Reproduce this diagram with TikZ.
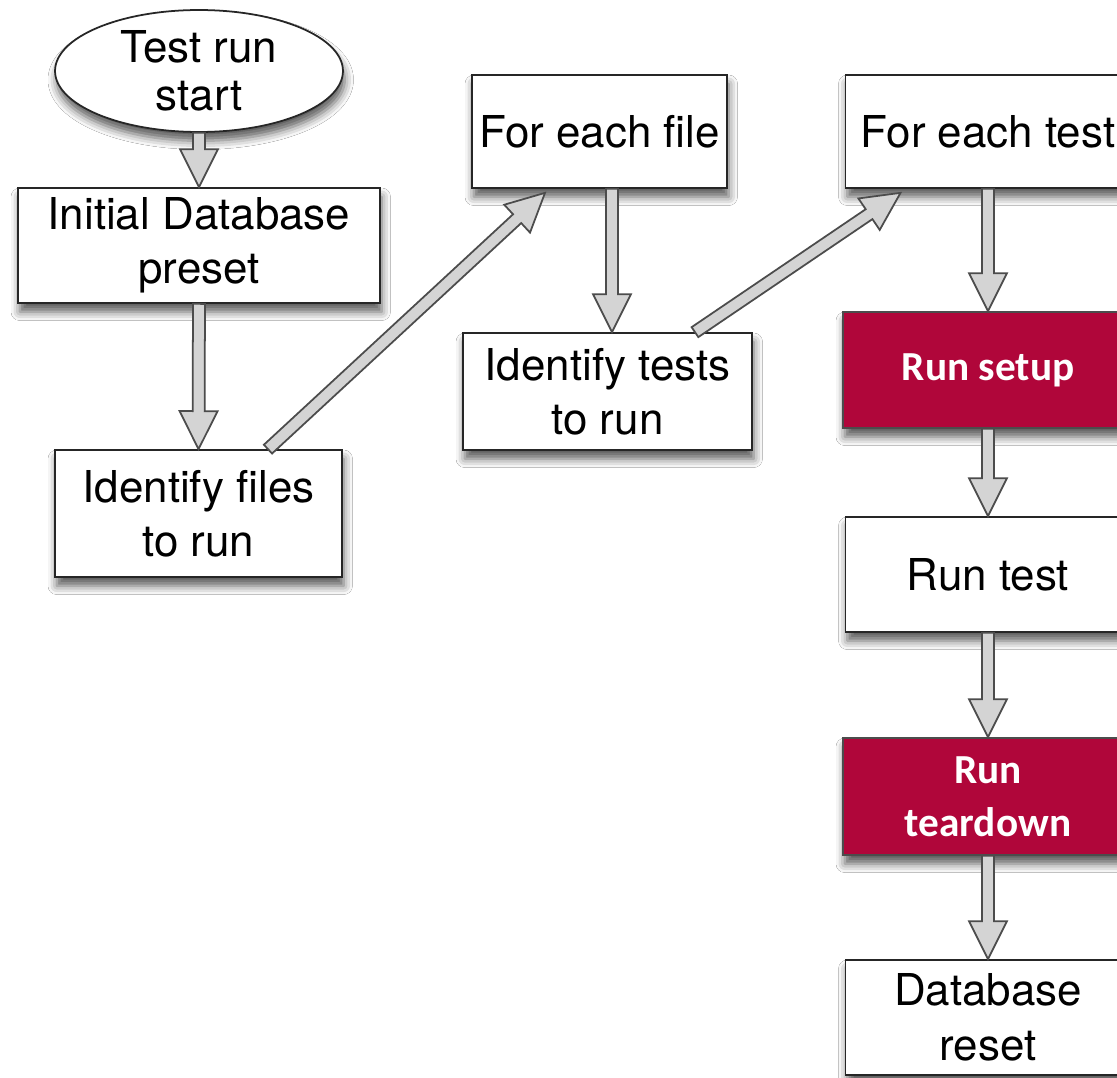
\documentclass[tikz,border=0pt]{standalone}
\usepackage{fontspec}
\setmainfont{TeX Gyre Heros}
\newfontfamily\carlito{Carlito}
\usetikzlibrary{shapes.geometric,shadows.blur,calc}
\definecolor{crimson}{RGB}{176,6,58}
\newcommand\fatarrow[2]{%
  \path (#1) coordinate (faA) (#2) coordinate (faB);
  \path ($(faB)!0.76cm!(faA)$) coordinate (faC);
  \filldraw[fatarr] ($(faA)!0.12cm!90:(faB)$) -- ($(faC)!0.12cm!90:(faB)$) -- ($(faC)!0.38cm!90:(faB)$) -- (faB) -- ($(faC)!0.38cm!-90:(faB)$) -- ($(faC)!0.12cm!-90:(faB)$) -- ($(faA)!0.12cm!-90:(faB)$) -- cycle;}
\begin{document}
\begin{tikzpicture}[x=0.02cm,y=-0.02cm,
  shad/.style={blur shadow={shadow xshift=1pt, shadow yshift=-5pt, shadow blur radius=5pt, shadow opacity=65}},
  wbox/.style={rectangle, draw=black!85, line width=1pt, fill=white, inner sep=0pt, align=center, font=\fontsize{25}{31}\selectfont, shad},
  rbox/.style={rectangle, draw=black!70, line width=1pt, fill=crimson, text=white, inner sep=0pt, align=center, font=\carlito\bfseries\fontsize{23.5}{30}\selectfont, shad},
  startell/.style={ellipse, draw=black!85, line width=1pt, fill=white, inner sep=0pt, align=center, font=\fontsize{25}{27}\selectfont, shad},
  fatarr/.style={draw=black!70, fill=black!17, line width=1pt, line join=miter}
]
\useasboundingbox[fill=white] (0,0) rectangle (1117,1078);

\node[startell, minimum width=5.76cm, minimum height=2.44cm] (start) at (199,71) {Test run\\start};
\node[wbox, minimum width=7.24cm, minimum height=2.3cm] (init) at (199,245.5) {Initial Database\\preset};
\node[wbox, minimum width=5.74cm, minimum height=2.54cm] (idf) at (198.5,513.5) {Identify files\\to run};
\node[wbox, minimum width=5.1cm, minimum height=2.26cm] (fef) at (599.5,131.5) {For each file};
\node[wbox, minimum width=5.78cm, minimum height=2.34cm] (idt) at (607.5,391.5) {Identify tests\\to run};
\node[wbox, minimum width=5.7cm, minimum height=2.26cm] (fet) at (988,131.5) {For each test};
\node[rbox, minimum width=5.8cm, minimum height=2.32cm] (rs) at (988,370) {Run setup};
\node[wbox, minimum width=5.7cm, minimum height=2.3cm] (rt) at (988,574.5) {Run test};
\node[rbox, minimum width=5.8cm, minimum height=2.34cm] (rtd) at (988,796.5) {Run\\teardown};
\node[wbox, minimum width=5.7cm, minimum height=2.3cm] (dbr) at (988,1017.5) {Database\\reset};

\fatarrow{start.south}{init.north}
\fatarrow{init.south}{idf.north}
\fatarrow{[xshift=1.39cm]idf.north}{[xshift=-1.09cm,yshift=-0.08cm]fef.south}
\fatarrow{[xshift=0.25cm]fef.south}{[xshift=0.09cm]idt.north}
\fatarrow{[xshift=1.75cm]idt.north}{[xshift=-1.75cm,yshift=-0.08cm]fet.south}
\fatarrow{fet.south}{rs.north}
\fatarrow{rs.south}{rt.north}
\fatarrow{rt.south}{rtd.north}
\fatarrow{rtd.south}{dbr.north}
\end{tikzpicture}
\end{document}
